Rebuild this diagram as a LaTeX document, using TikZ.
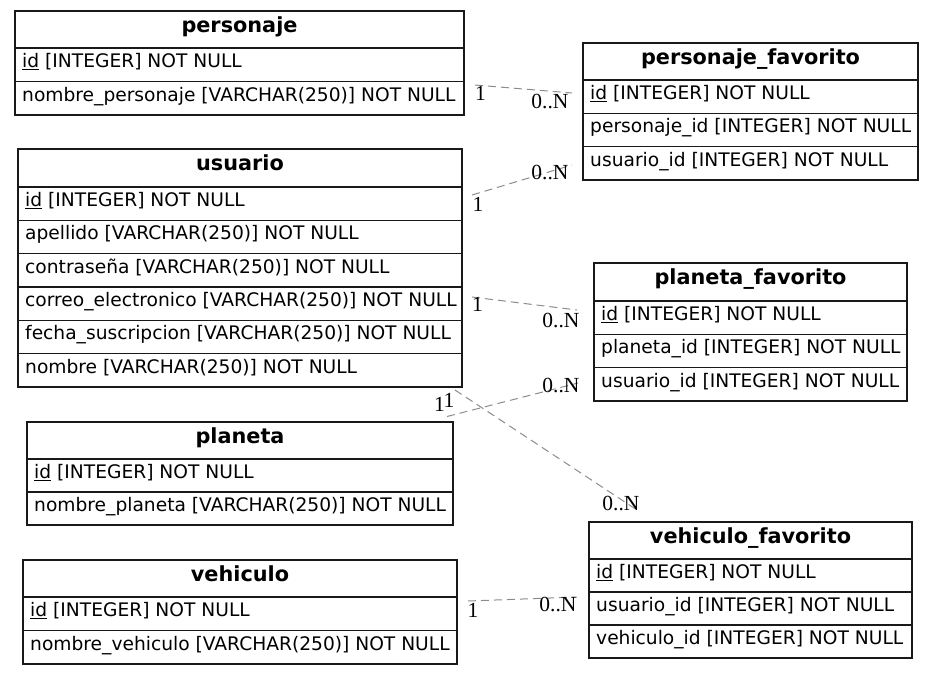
\documentclass[tikz,border=0pt]{standalone}
\usepackage{fontspec}
\setmainfont{DejaVu Sans}
\newfontfamily\lblfont{Liberation Serif}
\usetikzlibrary{fit}

\tikzset{
  tblframe/.style={draw=black!90, line width=1.2pt, inner sep=0pt},
  tblsep/.style={draw=black!90, line width=1.2pt},
  tbltitle/.style={anchor=base, inner sep=0pt, font=\fontsize{20.8}{24}\selectfont\bfseries},
  tblrow/.style={anchor=base west, inner sep=0pt, font=\fontsize{18.65}{22}\selectfont},
  relation/.style={draw=black!45, line width=1pt, dash pattern=on 8pt off 5pt},
  card/.style={inner sep=0pt, font=\lblfont\fontsize{21.5}{24}\selectfont},
}

% #1 name, #2 left, #3 top, #4 right, #5 header bottom, #6 row height, #7 title, #8 rows
\newcommand{\ertable}[8]{%
  \node[tbltitle] (#1-title) at ({(#2+#4)/2}, #3+21.8) {#7};
  \foreach [count=\k] \rowtext in {#8} {%
    \pgfmathsetmacro{\rowtop}{#5+(\k-1)*#6}
    \draw[tblsep] (#2,\rowtop) -- (#4,\rowtop);
    \node[tblrow] (#1-r\k) at (#2+7, \rowtop+19.5) {\rowtext};
    \xdef\ernrows{\k}
  }
  \node[tblframe, fit={(#2,#3) (#4,{#5+\ernrows*#6})}] (#1) {};
}

\begin{document}
\begin{tikzpicture}[x=1pt, y=-1pt]
\useasboundingbox (0,0) rectangle (933,675);

% tables
\ertable{personaje}{15}{11}{464}{48}{33.5}{personaje}
  {{\underline{id} [INTEGER] NOT NULL}, {nombre\_personaje [VARCHAR(250)] NOT NULL}}
\ertable{personajefav}{583}{43}{918}{80}{33.33}{personaje\_favorito}
  {{\underline{id} [INTEGER] NOT NULL}, {personaje\_id [INTEGER] NOT NULL}, {usuario\_id [INTEGER] NOT NULL}}
\ertable{usuario}{18}{149}{462}{187}{33.33}{usuario}
  {{\underline{id} [INTEGER] NOT NULL}, {apellido [VARCHAR(250)] NOT NULL},
   {contraseña [VARCHAR(250)] NOT NULL}, {correo\_electronico [VARCHAR(250)] NOT NULL},
   {fecha\_suscripcion [VARCHAR(250)] NOT NULL}, {nombre [VARCHAR(250)] NOT NULL}}
\ertable{planetafav}{594}{263}{907}{301}{33.33}{planeta\_favorito}
  {{\underline{id} [INTEGER] NOT NULL}, {planeta\_id [INTEGER] NOT NULL}, {usuario\_id [INTEGER] NOT NULL}}
\ertable{planeta}{27}{422}{453}{459}{33}{planeta}
  {{\underline{id} [INTEGER] NOT NULL}, {nombre\_planeta [VARCHAR(250)] NOT NULL}}
\ertable{vehiculo}{23}{560}{457}{597}{33.5}{vehiculo}
  {{\underline{id} [INTEGER] NOT NULL}, {nombre\_vehiculo [VARCHAR(250)] NOT NULL}}
\ertable{vehiculofav}{589}{522}{912}{559}{33}{vehiculo\_favorito}
  {{\underline{id} [INTEGER] NOT NULL}, {usuario\_id [INTEGER] NOT NULL}, {vehiculo\_id [INTEGER] NOT NULL}}

% relation end points
\coordinate (pe-a) at (475,85);    \coordinate (pe-b) at (572,93);
\coordinate (us-pf-a) at (472,195); \coordinate (us-pf-b) at (572,165);
\coordinate (us-plf-a) at (472,297); \coordinate (us-plf-b) at (577,310);
\coordinate (pl-a) at (447,416.5); \coordinate (pl-b) at (578,383);
\coordinate (us-vf-a) at (455,390); \coordinate (us-vf-b) at (637,510);
\coordinate (ve-a) at (468,601);   \coordinate (ve-b) at (577,597);

% relations
\draw[relation] (pe-a) -- (pe-b);
\draw[relation] (us-pf-a) -- (us-pf-b);
\draw[relation] (us-plf-a) -- (us-plf-b);
\draw[relation] (pl-a) -- (pl-b);
\draw[relation] (us-vf-a) -- (us-vf-b);
\draw[relation] (ve-a) -- (ve-b);

% cardinalities
\node[card] (c1a) at (480.5,93) {1};
\node[card] (c1b) at (550,101.5) {0..N};
\node[card] (c2a) at (478,204.5) {1};
\node[card] (c2b) at (550,172.5) {0..N};
\node[card] (c3a) at (477.5,304.5) {1};
\node[card] (c3b) at (561,320) {0..N};
\node[card] (c4a) at (439.5,404.5) {1};
\node[card] (c4b) at (561,385.5) {0..N};
\node[card] (c5a) at (449,400.5) {1};
\node[card] (c5b) at (621,503.5) {0..N};
\node[card] (c6a) at (473,610) {1};
\node[card] (c6b) at (558,604.5) {0..N};
\end{tikzpicture}
\end{document}
